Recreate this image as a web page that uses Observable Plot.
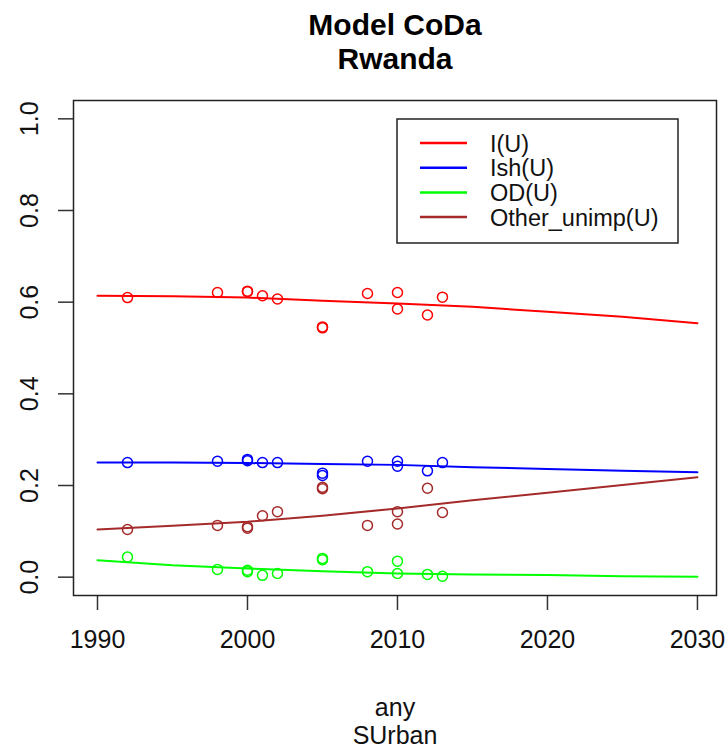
<!DOCTYPE html>
<html>
<head>
<meta charset="utf-8">
<script src="https://cdn.jsdelivr.net/npm/d3@7"></script>
<script src="https://cdn.jsdelivr.net/npm/@observablehq/plot@0.6"></script>
<style>
  body { margin: 0; background: #fff; }
  #wrap { position: relative; width: 728px; height: 751px; font-family: "Liberation Sans", Arial, sans-serif; }
</style>
</head>
<body>
<div id="wrap"></div>
<script>
// Component names and colours
const seriesNames = ["I(U)", "Ish(U)", "OD(U)", "Other_unimp(U)"];
const seriesColors = ["#ff0000", "#0000ff", "#00ff00", "#a52a2a"];

// Survey observations (one entry per survey)
const surveyYears = [1992, 1998, 2000, 2000, 2001, 2002, 2005, 2005, 2008, 2010, 2010, 2012, 2013];
const obsI     = [0.610, 0.621, 0.624, 0.623, 0.614, 0.607, 0.546, 0.544, 0.619, 0.621, 0.585, 0.572, 0.611];
const obsIsh   = [0.250, 0.253, 0.257, 0.254, 0.250, 0.250, 0.227, 0.222, 0.253, 0.253, 0.242, 0.232, 0.250];
const obsOD    = [0.044, 0.017, 0.015, 0.012, 0.004, 0.008, 0.041, 0.038, 0.012, 0.035, 0.008, 0.006, 0.002];
const obsOther = [0.104, 0.113, 0.110, 0.107, 0.134, 0.143, 0.196, 0.193, 0.113, 0.143, 0.116, 0.194, 0.141];

// Fitted model trajectories
const modelYears = [1990, 1995, 2000, 2005, 2010, 2015, 2020, 2025, 2030];
const fitI     = [0.614, 0.613, 0.610, 0.603, 0.597, 0.590, 0.579, 0.568, 0.554];
const fitIsh   = [0.250, 0.250, 0.249, 0.247, 0.245, 0.240, 0.236, 0.232, 0.229];
const fitOD    = [0.037, 0.026, 0.019, 0.013, 0.008, 0.006, 0.005, 0.002, 0.001];
const fitOther = [0.104, 0.112, 0.121, 0.134, 0.150, 0.168, 0.184, 0.201, 0.218];

// Axis ticks
const xTicks = [1990, 2000, 2010, 2020, 2030];
const yTicks = [0, 0.2, 0.4, 0.6, 0.8, 1.0];

const obsSeries = [obsI, obsIsh, obsOD, obsOther];
const fitSeries = [fitI, fitIsh, fitOD, fitOther];

const observations = seriesNames.flatMap((s, k) =>
  surveyYears.map((yr, i) => ({series: s, year: yr, value: obsSeries[k][i]})));
const fitted = seriesNames.flatMap((s, k) =>
  modelYears.map((yr, i) => ({series: s, year: yr, value: fitSeries[k][i]})));

const chart = Plot.plot({
  width: 728,
  height: 751,
  marginLeft: 73,
  marginRight: 12,
  marginTop: 100,
  marginBottom: 156,
  x: {domain: [1988.4, 2031.27], axis: null},
  y: {domain: [-0.04, 1.04], axis: null},
  color: {domain: seriesNames, range: seriesColors},
  style: {fontFamily: "'Liberation Sans', Arial, sans-serif", fontSize: "25px", color: "#000", background: "#fff"},
  marks: [
    Plot.axisX(xTicks, {tickSize: 15, tickPadding: 20, strokeWidth: 1.5, stroke: "#333", fill: "#111", fontSize: 25, tickFormat: d => String(d), label: null}),
    Plot.axisY(yTicks, {tickSize: 15, strokeWidth: 1.5, stroke: "#333", tickFormat: () => "", label: null}),
    Plot.text(yTicks, {y: d => d, text: d => d.toFixed(1), frameAnchor: "left", rotate: -90,
      dx: -36, textAnchor: "middle", lineAnchor: "bottom", fontSize: 25, fill: "#111"}),
    Plot.line(fitted, {x: "year", y: "value", z: "series", stroke: "series", strokeWidth: 2}),
    Plot.dot(observations, {x: "year", y: "value", stroke: "series", r: 5, strokeWidth: 1.5}),
    Plot.frame({stroke: "#222", strokeWidth: 1.5}),
    Plot.text(["Model CoDa\nRwanda"], {text: d => d, frameAnchor: "top", dy: -90.5, lineAnchor: "top",
      fontSize: 30, fontWeight: "bold", lineHeight: 1.15, fill: "#000"}),
    Plot.text(["any\nSUrban"], {text: d => d, frameAnchor: "bottom", dy: 101, lineAnchor: "top",
      fontSize: 25, lineHeight: 1.12, fill: "#111"})
  ]
});

const wrap = document.getElementById("wrap");
wrap.appendChild(chart);

// Legend box in the upper right of the panel
const legend = d3.select(wrap).append("svg")
  .attr("width", 284).attr("height", 128)
  .style("position", "absolute").style("left", "396px").style("top", "118px")
  .style("font-family", "'Liberation Sans', Arial, sans-serif");
legend.append("rect")
  .attr("x", 1).attr("y", 1).attr("width", 281).attr("height", 124)
  .attr("fill", "#fff").attr("stroke", "#222").attr("stroke-width", 1.5);
const rows = legend.selectAll("g").data(seriesNames).join("g")
  .attr("transform", (d, i) => `translate(0,${25 + i * 24.7})`);
rows.append("line")
  .attr("x1", 24).attr("x2", 71)
  .attr("stroke", (d, i) => seriesColors[i]).attr("stroke-width", 2.5);
rows.append("text")
  .attr("x", 94).attr("y", 8.5)
  .attr("font-size", 23.5).attr("fill", "#111")
  .text(d => d);
</script>
</body>
</html>
